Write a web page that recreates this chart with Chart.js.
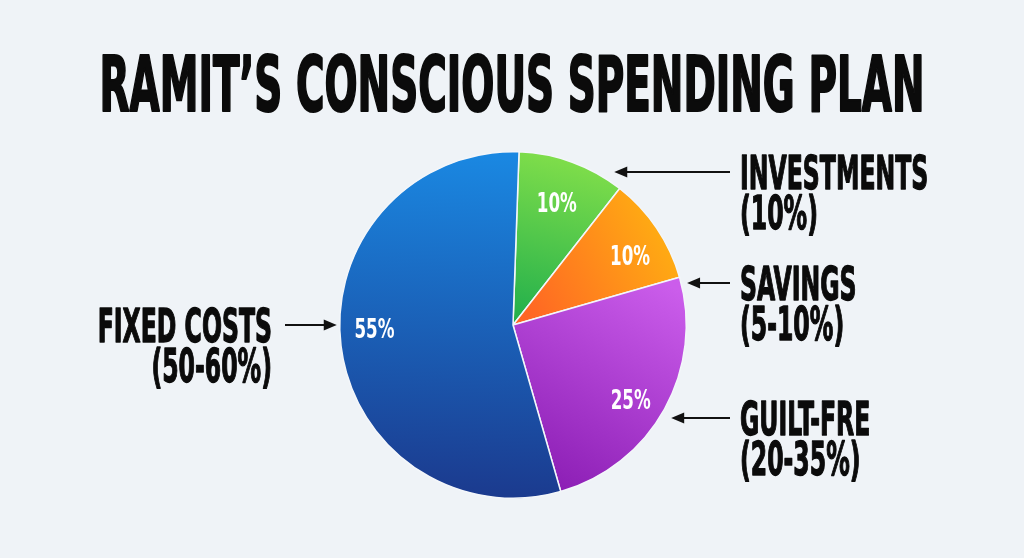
<!DOCTYPE html>
<html>
<head>
<meta charset="utf-8">
<title>Ramit's Conscious Spending Plan</title>
<script src="https://cdn.jsdelivr.net/npm/chart.js@4.4.1/dist/chart.umd.min.js"></script>
<style>
    html, body { margin: 0; padding: 0; }
    body { width: 1024px; height: 558px; background: #eff3f7; overflow: hidden; }
    #wrap { position: relative; width: 1024px; height: 558px; }
</style>
</head>
<body>
<div id="wrap"><canvas id="planChart"></canvas></div>
<script>
// Chart data
const titleText = 'RAMIT\u2019S CONSCIOUS SPENDING PLAN';
const categories = ['Investments', 'Savings', 'Guilt-Free', 'Fixed Costs'];
const shares = [10, 10, 25, 55];
const sliceLabels = ['INVESTMENTS', 'SAVINGS', 'GUILT-FRE', 'FIXED COSTS'];
const rangeLabels = ['(10%)', '(5-10%)', '(20-35%)', '(50-60%)'];

// Styling (gradient direction in units of the radius, from center)
const sliceGradients = [
    { from: [0.25, -1.0], to: [0.0, 0.0], stops: ['#82df4a', '#1fae4c'] },
    { from: [0.95, -0.45], to: [0.1, 0.0], stops: ['#ffae12', '#ff6524'] },
    { from: [0.95, -0.2], to: [0.25, 1.0], stops: ['#cb5deb', '#8a1cb3'] },
    { from: [0.1, -1.0], to: [0.0, 1.0], stops: ['#1a89e3', '#1b3a8e'] }
];
const flatColors = ['#4cc64a', '#ff8a1c', '#a83ad0', '#1b5cb8'];
// inside label nudges: extra turn (deg) and depth (fraction of radius)
const innerPlacement = [
    { turn: 0, depth: 0.74 },
    { turn: 4, depth: 0.78 },
    { turn: 4, depth: 0.81 },
    { turn: 5, depth: 0.80 }
];
// outside callouts: arrow height relative to center, side, gap to pie edge
const callouts = [
    { dy: -153, side: 'right', gap: 20 },
    { dy: -42, side: 'right', gap: 6 },
    { dy: 93, side: 'right', gap: 12 },
    { dy: 0, side: 'left', gap: 3 }
];

const FONT = '"Liberation Sans Narrow", "DejaVu Sans Condensed", "DejaVu Sans", sans-serif';
const TITLE_WIDTH = 825;   // the headline spans this many px
const INNER_WIDTH = 40;    // width of a "55%" style label

let squeeze = 0.6;
let innerSqueeze = 0.9;

function condensedText(ctx, text, x, y, size, sx, align, weight) {
    ctx.save();
    ctx.font = 'bold ' + size + 'px ' + FONT;
    ctx.textAlign = align;
    ctx.textBaseline = 'alphabetic';
    ctx.translate(x, y);
    ctx.scale(sx, 1);
    ctx.fillText(text, 0, 0);
    if (weight) {
        // thicken the strokes a little, the poster face is heavier
        ctx.strokeStyle = ctx.fillStyle;
        ctx.lineWidth = weight;
        ctx.lineJoin = 'round';
        ctx.strokeText(text, 0, 0);
    }
    ctx.restore();
}

function drawArrow(ctx, x0, x1, y) {
    // line from x0 to x1, head at x1
    const dir = x1 > x0 ? 1 : -1;
    ctx.save();
    ctx.strokeStyle = '#111';
    ctx.fillStyle = '#111';
    ctx.lineWidth = 2.2;
    ctx.beginPath();
    ctx.moveTo(x0, y);
    ctx.lineTo(x1 - dir * 10, y);
    ctx.stroke();
    ctx.beginPath();
    ctx.moveTo(x1, y);
    ctx.lineTo(x1 - dir * 13, y - 5.5);
    ctx.lineTo(x1 - dir * 13, y + 5.5);
    ctx.closePath();
    ctx.fill();
    ctx.restore();
}

function sliceFill(context) {
    const i = context.dataIndex;
    const chart = context.chart;
    const area = chart.chartArea;
    if (!area) return flatColors[i];
    const cx = (area.left + area.right) / 2;
    const cy = (area.top + area.bottom) / 2;
    const r = Math.min(area.width, area.height) / 2;
    const g = sliceGradients[i];
    const grad = chart.ctx.createLinearGradient(
        cx + g.from[0] * r, cy + g.from[1] * r,
        cx + g.to[0] * r, cy + g.to[1] * r
    );
    grad.addColorStop(0, g.stops[0]);
    grad.addColorStop(1, g.stops[1]);
    return grad;
}

const planLabels = {
    id: 'planLabels',
    afterDatasetsDraw(chart) {
        const ctx = chart.ctx;
        const arcs = chart.getDatasetMeta(0).data;
        if (!arcs.length) return;
        const cx = arcs[0].x, cy = arcs[0].y, R = arcs[0].outerRadius;

        // fit the condensed look to whatever font got picked
        ctx.save();
        ctx.font = 'bold 76px ' + FONT;
        squeeze = TITLE_WIDTH / ctx.measureText(titleText).width;
        ctx.font = 'bold 26px ' + FONT;
        innerSqueeze = INNER_WIDTH / ctx.measureText('55%').width;
        ctx.restore();

        // title
        ctx.save();
        ctx.fillStyle = '#0b0b0b';
        condensedText(ctx, titleText, chart.width / 2, 111, 76, squeeze, 'center', 2.2);
        ctx.restore();

        arcs.forEach((arc, i) => {
            // value inside slice
            const p = innerPlacement[i];
            const mid = (arc.startAngle + arc.endAngle) / 2 + p.turn * Math.PI / 180;
            const lx = cx + Math.cos(mid) * R * p.depth;
            const ly = cy + Math.sin(mid) * R * p.depth;
            ctx.save();
            ctx.fillStyle = '#ffffff';
            ctx.font = 'bold 26px ' + FONT;
            ctx.textAlign = 'center';
            ctx.textBaseline = 'middle';
            ctx.translate(lx, ly);
            ctx.scale(innerSqueeze, 1);
            ctx.fillText(shares[i] + '%', 0, 1);
            ctx.restore();

            // callout with arrow
            const c = callouts[i];
            const ay = cy + c.dy;
            const edge = Math.sqrt(Math.max(R * R - c.dy * c.dy, 0));
            ctx.save();
            ctx.fillStyle = '#0b0b0b';
            if (c.side === 'right') {
                drawArrow(ctx, cx + 217, cx + edge + c.gap, ay);
                condensedText(ctx, sliceLabels[i], cx + 227, ay + 17, 46, squeeze, 'left', 1.3);
                condensedText(ctx, rangeLabels[i], cx + 227, ay + 57, 46, squeeze, 'left', 1.3);
            } else {
                drawArrow(ctx, cx - 228, cx - edge - c.gap, ay);
                condensedText(ctx, sliceLabels[i], cx - 241, ay + 17, 46, squeeze, 'right', 1.3);
                condensedText(ctx, rangeLabels[i], cx - 241, ay + 57, 46, squeeze, 'right', 1.3);
            }
            ctx.restore();
        });
    }
};

document.addEventListener('DOMContentLoaded', function() {
    const canvas = document.getElementById('planChart');
    if (!canvas || typeof Chart === 'undefined') return;
    new Chart(canvas.getContext('2d'), {
        type: 'pie',
        data: {
            labels: categories,
            datasets: [{
                data: shares,
                backgroundColor: sliceFill,
                borderColor: '#f3f6fa',
                borderWidth: 1.5
            }]
        },
        options: {
            responsive: true,
            maintainAspectRatio: false,
            animation: false,
            rotation: 2,
            layout: { padding: { top: 151, bottom: 59, left: 2, right: 0 } },
            plugins: {
                legend: { display: false },
                tooltip: { enabled: false },
                title: { display: false }
            }
        },
        plugins: [planLabels]
    });
});
</script>
</body>
</html>
